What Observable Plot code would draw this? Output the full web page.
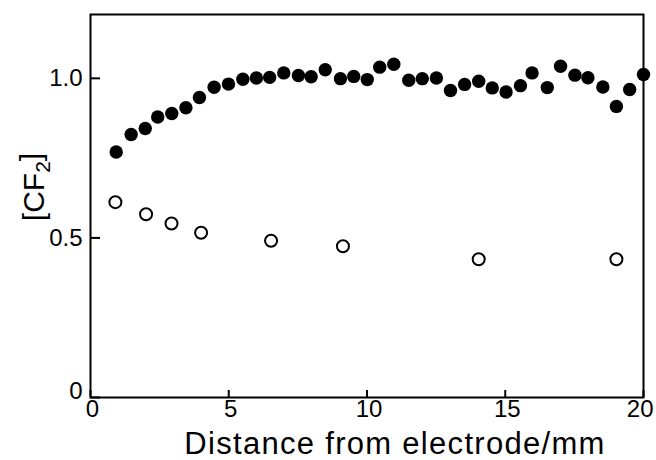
<!DOCTYPE html>
<html>
<head>
<meta charset="utf-8">
<script src="https://cdn.jsdelivr.net/npm/d3@7"></script>
<script src="https://cdn.jsdelivr.net/npm/@observablehq/plot@0.6"></script>
<style>
  html, body { margin: 0; padding: 0; background: #fff; }
  #chart svg { display: block; }
</style>
</head>
<body>
<div id="chart"></div>
<script>
// Filled circles
const filledX = [0.93,1.47,1.98,2.43,2.94,3.45,3.94,4.47,4.99,5.51,6.00,6.48,6.99,7.52,7.98,8.49,9.04,9.52,10.01,10.46,10.97,11.51,12.00,12.51,13.02,13.53,14.04,14.53,15.03,15.55,15.97,16.52,17.0,17.52,17.99,18.53,19.02,19.50,20.0];
const filledY = [0.769,0.824,0.843,0.879,0.890,0.908,0.940,0.972,0.982,0.997,1.001,1.003,1.017,1.009,1.005,1.027,0.999,1.006,0.996,1.035,1.044,0.994,0.999,1.001,0.962,0.981,0.991,0.970,0.957,0.977,1.017,0.971,1.038,1.010,1.002,0.973,0.912,0.965,1.012];
// Open circles
const openX = [0.90,2.01,2.93,4.0,6.53,9.13,14.04,19.02];
const openY = [0.612,0.574,0.545,0.516,0.491,0.474,0.433,0.433];
// Ticks
const xTicks = [0,5,10,15,20];
const xTickLabels = ["0","5","10","15","20"];
const yTicks = [0,0.5,1.0];
const yTickLabels = ["0","0.5","1.0"];
const xTitle = "Distance from electrode/mm";
const yTitle = "[CF2]";

const filled = filledX.map((x,i)=>({x, y: filledY[i]}));
const open = openX.map((x,i)=>({x, y: openY[i]}));
const xLab = xTicks.map((v,i)=>({v, label: xTickLabels[i]}));
const yLab = yTicks.map((v,i)=>({v, label: yTickLabels[i]}));
const FONT = "'Liberation Sans', Arial, Helvetica, sans-serif";

const chart = Plot.plot({
  width: 656,
  height: 460,
  marginLeft: 90,
  marginRight: 13,
  marginTop: 14,
  marginBottom: 63,
  style: {fontFamily: FONT, background: "#fff", color: "#000"},
  x: {domain: [0, 20], axis: null},
  y: {domain: [0, 1.2], axis: null},
  marks: [
    Plot.frame({stroke: "#000", strokeWidth: 2}),
    Plot.ruleX(xTicks, {x: d => d, y1: 0, y2: 0, insetBottom: 7, stroke: "#000", strokeWidth: 2}),
    Plot.ruleY(yTicks, {y: d => d, x1: 0, x2: 0, insetLeft: 10, stroke: "#000", strokeWidth: 2}),
    // x tick labels (all but last centered; last right-aligned so it fits)
    Plot.text(xLab.slice(0, -1), {x: "v", y: 0, dy: 12, dx: 2, text: "label", fontSize: 24, lineAnchor: "middle", textAnchor: "middle", fill: "#000"}),
    Plot.text(xLab.slice(-1), {x: "v", y: 0, dy: 12, dx: 10, text: "label", fontSize: 24, lineAnchor: "middle", textAnchor: "end", fill: "#000"}),
    // y tick labels (zero label raised a little as in the original)
    Plot.text(yLab.slice(1), {x: 0, y: "v", dx: -8, text: "label", fontSize: 24, textAnchor: "end", lineAnchor: "middle", fill: "#000"}),
    Plot.text(yLab.slice(0, 1), {x: 0, y: "v", dx: -8, dy: -6, text: "label", fontSize: 24, textAnchor: "end", lineAnchor: "middle", fill: "#000"}),
    Plot.text([xTitle], {frameAnchor: "bottom", text: d => d, dx: 28, dy: 47, fontSize: 31, lineAnchor: "middle", textAnchor: "middle", fill: "#000", className: "xtitle"}),
    Plot.text([yTitle], {frameAnchor: "left", text: d => d, rotate: -90, dx: -56, dy: -19, fontSize: 30, lineAnchor: "middle", textAnchor: "middle", fill: "#000", className: "ytitle"}),
    Plot.dot(open, {x: "x", y: "y", r: 6, fill: "#fff", stroke: "#000", strokeWidth: 2}),
    Plot.dot(filled, {x: "x", y: "y", r: 6.7, fill: "#000", stroke: "none"})
  ]
});
document.getElementById("chart").appendChild(chart);

// letter spacing on x title
chart.querySelectorAll(".xtitle text").forEach(t => t.setAttribute("letter-spacing", "1.3"));
// subscript for [CF2]
chart.querySelectorAll(".ytitle text").forEach(t => {
  t.textContent = "";
  const ns = "http://www.w3.org/2000/svg";
  const a = document.createElementNS(ns, "tspan"); a.textContent = "[CF";
  const b = document.createElementNS(ns, "tspan"); b.textContent = "2"; b.setAttribute("font-size", "21"); b.setAttribute("dy", "0.3em");
  const c = document.createElementNS(ns, "tspan"); c.textContent = "]"; c.setAttribute("dy", "-0.3em");
  t.appendChild(a); t.appendChild(b); t.appendChild(c);
});
</script>
</body>
</html>
